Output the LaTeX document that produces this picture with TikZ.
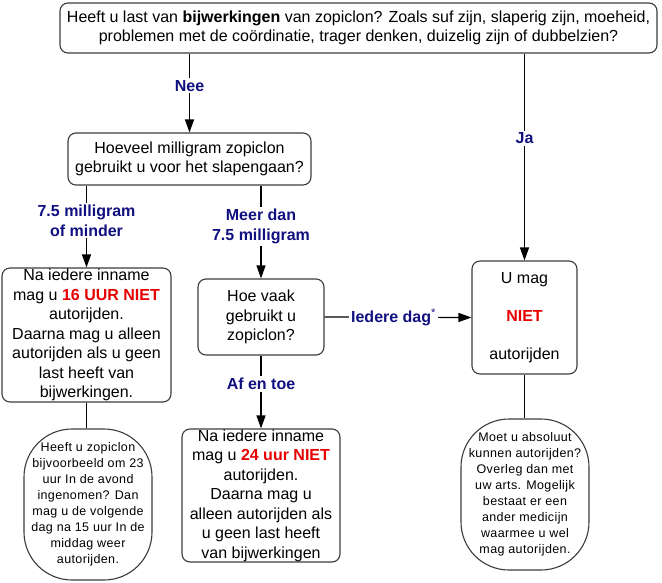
\documentclass[tikz,border=0pt]{standalone}
\usepackage{fontspec}
\setmainfont{Liberation Sans}
\newfontfamily\ovalfont[LetterSpace=3]{Liberation Sans}
\usetikzlibrary{arrows.meta}
\definecolor{lblblue}{RGB}{16,16,128}
\definecolor{warnred}{RGB}{230,0,0}
\definecolor{edgegray}{RGB}{60,60,60}
\tikzset{
  box/.style={draw=edgegray, line width=1.1pt, rounded corners=8pt, align=center, inner sep=0pt,
    font=\fontsize{16}{19.5}\selectfont},
  oval/.style={draw=edgegray, line width=1.1pt, rounded corners=48pt, align=center, inner sep=0pt,
    minimum width=128pt, minimum height=151pt, font=\ovalfont\fontsize{12.5}{16}\selectfont},
  conn/.style={line width=1.2pt, black},
  arr/.style={conn, -{Triangle[length=13pt,width=9pt]}},
  lbl/.style={fill=white, text=lblblue, font=\fontsize{16}{19.5}\selectfont\bfseries, align=center, inner sep=2pt},
}
\begin{document}
\begin{tikzpicture}[x=1pt,y=-1pt]
\useasboundingbox (0,0) rectangle (662,582);
\node[box, minimum width=597pt, minimum height=50pt] (top) at (358.5,28)
  {Heeft u last van \textbf{bijwerkingen} van zopiclon? Zoals suf zijn, slaperig zijn, moeheid,\\
   problemen met de coördinatie, trager denken, duizelig zijn of dubbelzien?};
\node[box, minimum width=243pt, minimum height=52pt] (dose) at (189.5,159)
  {Hoeveel milligram zopiclon\\ gebruikt u voor het slapengaan?};
\node[box, minimum width=169pt, minimum height=134pt] (low) at (86.5,335)
  {Na iedere inname\\ mag u \textcolor{warnred}{\textbf{16 UUR NIET}}\\ autorijden.\\ Daarna mag u alleen\\ autorijden als u geen\\ last heeft van\\ bijwerkingen.};
\node[box, minimum width=126pt, minimum height=76pt] (freq) at (261,317)
  {Hoe vaak\\ gebruikt u\\ zopiclon?};
\node[box, minimum width=158pt, minimum height=133pt] (occ) at (261,495.5)
  {Na iedere inname\\ mag u \textcolor{warnred}{\textbf{24 uur NIET}}\\ autorijden.\\ Daarna mag u\\ alleen autorijden als\\ u geen last heeft\\ van bijwerkingen};
\node[box, minimum width=105pt, minimum height=113pt] (not) at (524.5,317.5)
  {U mag\\[18.5pt] \textcolor{warnred}{\textbf{NIET}}\\[18.5pt] autorijden};
\node[oval] (exL) at (88,504.5)
  {Heeft u zopiclon\\ bijvoorbeeld om 23\\ uur In de avond\\ ingenomen? Dan\\ mag u de volgende\\ dag na 15 uur In de\\ middag weer\\ autorijden.};
\node[oval] (exR) at (525,494.5)
  {Moet u absoluut\\ kunnen autorijden?\\ Overleg dan met\\ uw arts. Mogelijk\\ bestaat er een\\ ander medicijn\\ waarmee u wel\\ mag autorijden.};
\draw[arr] (top.south -| dose.north) -- node[lbl, pos=0.41] {Nee} (dose.north);
\draw[arr] (top.south -| not.north) -- node[lbl, pos=0.41] {Ja} (not.north);
\draw[arr] (dose.south -| low.north) -- node[lbl, pos=0.43] {7.5 milligram\\ of minder} (low.north);
\draw[arr] (dose.south -| freq.north) -- node[lbl, pos=0.44] {Meer dan\\ 7.5 milligram} (freq.north);
\draw[arr] (freq.south) -- node[lbl, pos=0.39] {Af en toe} (occ.north);
\draw[arr] (freq.east) -- node[lbl, pos=0.47] {Iedere dag\textsuperscript{\mdseries*}} (not.west);
\draw[conn] (low.south) -- (low.south |- exL.north);
\draw[conn] (not.south) -- (not.south |- exR.north);
\end{tikzpicture}
\end{document}
